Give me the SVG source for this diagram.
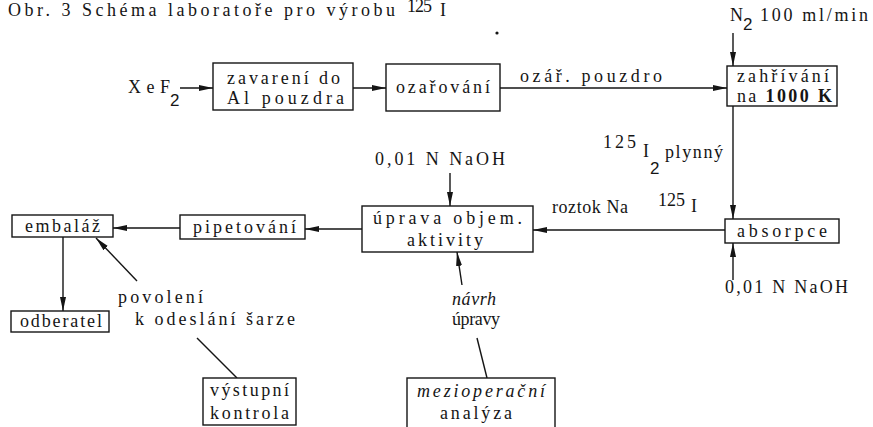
<svg xmlns="http://www.w3.org/2000/svg" width="873" height="427" viewBox="0 0 873 427">
<style>
.bg{fill:#fff}
.box{fill:#fff;stroke:#151515;stroke-width:1.4}
.ln{fill:none;stroke:#151515;stroke-width:1.4}
.t{font-family:"Liberation Serif","DejaVu Serif",serif;font-size:18px;fill:#151515}
.s{font-family:"Liberation Sans","DejaVu Sans",sans-serif;font-size:17px;fill:#151515}
.i{font-style:italic}
</style>
<defs>
<marker id="ah" viewBox="0 0 14 8" refX="14" refY="4" markerWidth="14" markerHeight="8" markerUnits="userSpaceOnUse" orient="auto">
<path d="M0,1 L14,4 L0,7 Z" fill="#151515"/>
</marker>
</defs>
<rect class="bg" x="0" y="0" width="873" height="427"/>
<g id="title">
<text class="t" x="8" y="16" font-size="17" textLength="387" lengthAdjust="spacing">Obr. 3 Schéma laboratoře pro výrobu</text>
<text class="t" x="407" y="12" font-size="10" textLength="25" lengthAdjust="spacing">125</text>
<text class="t" x="440" y="16" font-size="17">I</text>
<circle cx="497" cy="33" r="1.6" fill="#151515"/>
</g>
<g id="connectors">
<line class="ln" x1="180" y1="88" x2="213" y2="88" marker-end="url(#ah)"/>
<line class="ln" x1="353" y1="88" x2="386" y2="88" marker-end="url(#ah)"/>
<line class="ln" x1="500" y1="88" x2="727" y2="88" marker-end="url(#ah)"/>
<line class="ln" x1="733" y1="33" x2="733" y2="66" marker-end="url(#ah)"/>
<line class="ln" x1="733" y1="106" x2="733" y2="219" marker-end="url(#ah)"/>
<line class="ln" x1="733" y1="280" x2="733" y2="243" marker-end="url(#ah)"/>
<line class="ln" x1="725" y1="230" x2="533" y2="230" marker-end="url(#ah)"/>
<line class="ln" x1="450" y1="173" x2="450" y2="206" marker-end="url(#ah)"/>
<line class="ln" x1="462" y1="285" x2="457" y2="252" marker-end="url(#ah)"/>
<line class="ln" x1="477" y1="338" x2="487" y2="378"/>
<line class="ln" x1="362" y1="229" x2="305" y2="229" marker-end="url(#ah)"/>
<line class="ln" x1="180" y1="228" x2="113" y2="228" marker-end="url(#ah)"/>
<line class="ln" x1="63" y1="237" x2="63" y2="311" marker-end="url(#ah)"/>
<line class="ln" x1="137" y1="281" x2="96" y2="238" marker-end="url(#ah)"/>
<line class="ln" x1="197" y1="338" x2="237" y2="378"/>
</g>
<g id="labels">
<text class="t" x="128" y="93" textLength="42" lengthAdjust="spacing">XeF</text>
<text class="s" x="170" y="106">2</text>
<text class="t" x="520" y="82" textLength="142" lengthAdjust="spacing">ozář. pouzdro</text>
<text class="t" x="730" y="21">N<tspan class="s" dy="9">2</tspan></text>
<text class="t" x="760" y="21" textLength="108" lengthAdjust="spacing">100 ml/min</text>
<text class="t" x="603" y="148" textLength="33" lengthAdjust="spacing">125</text>
<text class="t" x="643" y="157">I</text>
<text class="s" x="650" y="174">2</text>
<text class="t" x="665" y="158" textLength="58" lengthAdjust="spacing">plynný</text>
<text class="t" x="552" y="213" textLength="76" lengthAdjust="spacing">roztok Na</text>
<text class="t" x="658" y="206" textLength="27" lengthAdjust="spacing">125</text>
<text class="t" x="691" y="212" font-size="13">I</text>
<text class="t" x="725" y="293" textLength="123" lengthAdjust="spacing">0,01 N NaOH</text>
<text class="t" x="375" y="165" textLength="130" lengthAdjust="spacing">0,01 N  NaOH</text>
<text class="t i" x="452" y="305" textLength="44" lengthAdjust="spacing">návrh</text>
<text class="t" x="452" y="325" textLength="48" lengthAdjust="spacing">úpravy</text>
<text class="t" x="118" y="303" textLength="85" lengthAdjust="spacing">povolení</text>
<text class="t" x="135" y="325" textLength="160" lengthAdjust="spacing">k odeslání šarze</text>
</g>
<g id="zavareni">
<rect class="box" x="213" y="63" width="140" height="47"/>
<text class="t" x="227" y="84" textLength="113" lengthAdjust="spacing">zavarení do</text>
<text class="t" x="227" y="104" textLength="117" lengthAdjust="spacing">Al pouzdra</text>
</g>
<g id="ozarovani">
<rect class="box" x="386" y="64" width="114" height="47"/>
<text class="t" x="396" y="93" textLength="94" lengthAdjust="spacing">ozařování</text>
</g>
<g id="zahrivani">
<rect class="box" x="727" y="66" width="110" height="40"/>
<text class="t" x="737" y="82" font-size="15" textLength="92" lengthAdjust="spacing">zahřívání</text>
<text class="t" x="737" y="102" font-size="15" textLength="95" lengthAdjust="spacing">na <tspan font-weight="bold">1000 K</tspan></text>
</g>
<g id="absorpce">
<rect class="box" x="725" y="219" width="114" height="24"/>
<text class="t" x="737" y="237" textLength="90" lengthAdjust="spacing">absorpce</text>
</g>
<g id="uprava">
<rect class="box" x="362" y="206" width="171" height="46"/>
<text class="t" x="373" y="224" textLength="149" lengthAdjust="spacing">úprava objem.</text>
<text class="t" x="407" y="246" textLength="76" lengthAdjust="spacing">aktivity</text>
</g>
<g id="pipetovani">
<rect class="box" x="180" y="215" width="125" height="24"/>
<text class="t" x="193" y="233" textLength="103" lengthAdjust="spacing">pipetování</text>
</g>
<g id="embalaz">
<rect class="box" x="12" y="215" width="101" height="22"/>
<text class="t" x="25" y="232" textLength="75" lengthAdjust="spacing">embaláž</text>
</g>
<g id="odberatel">
<rect class="box" x="11" y="311" width="98" height="21"/>
<text class="t" x="20" y="327" textLength="82" lengthAdjust="spacing">odberatel</text>
</g>
<g id="vystupni">
<rect class="box" x="203" y="378" width="93" height="47"/>
<text class="t" x="210" y="396" textLength="79" lengthAdjust="spacing">výstupní</text>
<text class="t" x="210" y="419" textLength="79" lengthAdjust="spacing">kontrola</text>
</g>
<g id="meziopera">
<rect class="box" x="407" y="378" width="148" height="52"/>
<text class="t i" x="417" y="397" textLength="128" lengthAdjust="spacing">mezioperační</text>
<text class="t" x="440" y="419" textLength="72" lengthAdjust="spacing">analýza</text>
</g>
</svg>
